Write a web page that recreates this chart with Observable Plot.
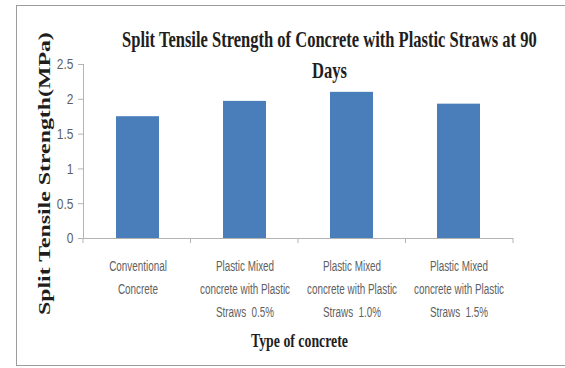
<!DOCTYPE html>
<html>
<head>
<meta charset="utf-8">
<script src="https://cdn.jsdelivr.net/npm/d3@7"></script>
<script src="https://cdn.jsdelivr.net/npm/@observablehq/plot@0.6"></script>
<style>
  html, body { margin: 0; padding: 0; background: #fff; }
  #wrap { position: relative; width: 565px; height: 368px; overflow: hidden; }
  #frame { position: absolute; left: 16px; top: 5px; width: 600px; height: 361px;
           border: 1.5px solid #9c9c9c; box-sizing: border-box; }
  #chart { position: absolute; left: 0; top: 0; }
</style>
</head>
<body>
<div id="wrap"><div id="frame"></div><div id="chart"></div></div>
<script>
// Split tensile strength at 90 days for each concrete mix
const types = [
  "Conventional\nConcrete",
  "Plastic Mixed\nconcrete with Plastic\nStraws  0.5%",
  "Plastic Mixed\nconcrete with Plastic\nStraws  1.0%",
  "Plastic Mixed\nconcrete with Plastic\nStraws  1.5%"
];
const strength = [1.75, 1.97, 2.1, 1.93];
const yTicks = [0, 0.5, 1, 1.5, 2, 2.5];

const titleLine1 = "Split Tensile Strength of Concrete with Plastic Straws at 90";
const titleLine2 = "Days";
const yLabel = "Split Tensile Strength(MPa)";
const xLabel = "Type of concrete";

const data = types.map((t, i) => ({type: t, value: strength[i]}));

const axisGrey = "#b4b4b4";
const tickText = "#5f5f5f";

const plot = Plot.plot({
  width: 565,
  height: 368,
  marginLeft: 83,
  marginRight: 52,
  marginTop: 64,
  marginBottom: 130,
  style: {fontFamily: "'Liberation Sans', Arial, sans-serif", fontSize: "15px", background: "transparent"},
  x: {domain: types, paddingInner: 0.6, paddingOuter: 0.3, label: null},
  y: {domain: [0, 2.5], label: null},
  marks: [
    Plot.barY(data, {x: "type", y: "value", fill: "#4a7ebb"}),
    Plot.frame({anchor: "left", stroke: axisGrey}),
    Plot.ruleY([0], {stroke: axisGrey, strokeWidth: 1.2}),
    Plot.axisY({ticks: yTicks, tickFormat: d => String(d), tickSize: 5, tickPadding: 5,
                stroke: axisGrey, fill: tickText, label: null}),
    Plot.axisX({tickSize: 0, tickPadding: 16, fill: tickText, lineHeight: 1.55, label: null})
  ]
});

document.getElementById("chart").appendChild(plot);

const svg = d3.select(plot);

// Narrow the tick labels horizontally about their anchors
svg.selectAll('g[aria-label="x-axis tick label"] text').each(function () {
  const t = d3.select(this);
  t.attr("transform", (t.attr("transform") || "") + " scale(0.66,1)");
});
svg.selectAll('g[aria-label="y-axis tick label"] text').each(function () {
  const t = d3.select(this);
  t.attr("transform", (t.attr("transform") || "") + " scale(0.8,1)");
});

// Short category-boundary ticks below the x axis, taken from the band scale
const xs = plot.scale("x");
const band = d3.scaleBand(xs.domain, xs.range)
  .paddingInner(xs.paddingInner).paddingOuter(xs.paddingOuter).align(xs.align);
const half = band.paddingInner() * band.step() / 2;
const bounds = types.map(t => band(t) - half).concat([band(types[types.length - 1]) + band.bandwidth() + half]);
const y0 = plot.scale("y").apply(0);
svg.append("g").selectAll("line").data(bounds).join("line")
  .attr("x1", d => d).attr("x2", d => d)
  .attr("y1", y0).attr("y2", y0 + 5)
  .attr("stroke", axisGrey);

// Title and axis titles: condensed bold serif, fitted to a given width
const serif = "'Liberation Serif', 'Times New Roman', serif";
function fitted(str, x, y, width, size, rotate) {
  const t = svg.append("text")
    .attr("text-anchor", "start")
    .attr("font-family", serif).attr("font-weight", "bold").attr("font-size", size)
    .attr("fill", "#1e1e1e").text(str);
  const k = width / t.node().getComputedTextLength();
  t.attr("transform", `translate(${x},${y})${rotate ? " rotate(-90)" : ""} scale(${k},1)`);
}
fitted(titleLine1, 122, 47, 415, 24);
fitted(titleLine2, 312, 78, 35, 24);
fitted(xLabel, 251, 347, 97, 19);
fitted(yLabel, 50, 315, 283, 17, true);
</script>
</body>
</html>
